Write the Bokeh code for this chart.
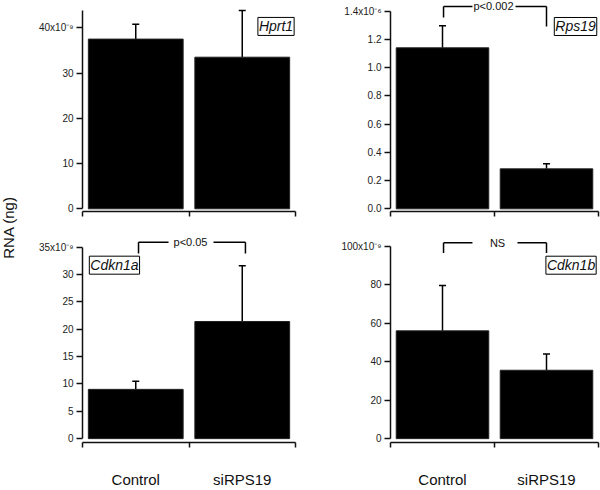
import math
from bokeh.plotting import figure
from bokeh.models import Range1d, FixedTicker, ColumnDataSource, Whisker, TeeHead, Label
from bokeh.layouts import row, column
from bokeh.core.properties import value
from bokeh.embed import file_html
from bokeh.resources import INLINE

# ---------------- data ----------------
groups = ["Control", "siRPS19"]
x_pos = [0.5, 1.5]

hprt1_mean = [37.5, 33.5]
hprt1_err = [3.3, 10.3]
hprt1_ticks = [0, 10, 20, 30, 40]
hprt1_labels = ["0", "10", "20", "30", "40x10\u207b\u2079"]

rps19_mean = [1.14, 0.283]
rps19_err = [0.157, 0.036]
rps19_ticks = [0.0, 0.2, 0.4, 0.6, 0.8, 1.0, 1.2, 1.4]
rps19_labels = ["0.0", "0.2", "0.4", "0.6", "0.8", "1.0", "1.2", "1.4x10\u207b\u2076"]

cdkn1a_mean = [9.0, 21.4]
cdkn1a_err = [1.5, 10.2]
cdkn1a_ticks = [0, 5, 10, 15, 20, 25, 30, 35]
cdkn1a_labels = ["0", "5", "10", "15", "20", "25", "30", "35x10\u207b\u2079"]

cdkn1b_mean = [56.1, 35.6]
cdkn1b_err = [23.6, 8.4]
cdkn1b_ticks = [0, 20, 40, 60, 80, 100]
cdkn1b_labels = ["0", "20", "40", "60", "80", "100x10\u207b\u2079"]

FONT = "Liberation Sans"
INK = "#111111"


def panel(width, height, b_left, b_right, b_bottom, y_rng, y_top, ticks, tick_labels,
          means, errs, gene, gene_xy, bracket, ptext, show_groups):
    p = figure(width=width, height=height, x_range=Range1d(0, 2),
               y_range=Range1d(*y_rng), output_backend="svg", toolbar_location=None,
               min_border_left=b_left, min_border_right=b_right, min_border_top=0,
               min_border_bottom=b_bottom, outline_line_color=None)
    p.xgrid.visible = False
    p.ygrid.visible = False

    ya = p.yaxis[0]
    ya.ticker = FixedTicker(ticks=ticks, minor_ticks=[])
    ya.bounds = (0, y_top)
    ya.major_label_overrides = dict(zip(ticks, tick_labels))
    ya.major_tick_out = 6
    ya.major_tick_in = 0
    ya.minor_tick_line_color = None
    ya.axis_line_width = 1.5
    ya.major_tick_line_width = 1.5
    ya.axis_line_color = INK
    ya.major_tick_line_color = INK
    ya.major_label_text_font = FONT
    ya.major_label_text_font_size = "10px"
    ya.major_label_text_color = "#222222"
    ya.major_label_standoff = 3

    xa = p.xaxis[0]
    xa.ticker = FixedTicker(ticks=x_pos, minor_ticks=[0, 1, 2])
    xa.major_tick_out = 0
    xa.major_tick_in = 0
    xa.minor_tick_out = 5
    xa.minor_tick_in = 0
    xa.minor_tick_line_width = 1.5
    xa.minor_tick_line_color = INK
    xa.axis_line_width = 1.5
    xa.axis_line_color = INK
    xa.major_label_text_font = FONT
    if show_groups:
        xa.major_label_overrides = dict(zip(x_pos, groups))
        xa.major_label_text_font_size = "15px"
        xa.major_label_text_color = INK
        xa.major_label_standoff = 23
    else:
        xa.major_label_overrides = dict(zip(x_pos, ["", ""]))
        xa.major_label_text_font_size = "0px"
        xa.major_label_standoff = 0

    src = ColumnDataSource(dict(x=x_pos, mean=means,
                                upper=[m + e for m, e in zip(means, errs)]))
    p.add_layout(Whisker(source=src, base="x", lower="mean", upper="upper",
                         upper_head=TeeHead(size=7, line_width=1.5, line_color="black"),
                         lower_head=None, line_width=1.5, line_color="black"))
    p.vbar(x="x", top="mean", bottom=0, width=0.89, source=src,
           fill_color="black", line_color="#222222", line_width=1)

    # significance bracket
    if bracket is not None:
        xl, xr, gl, gr, yl, ydl, ydr, tx = bracket
        p.segment(x0=[xl, xl, gr, xr], y0=[ydl, yl, yl, yl],
                  x1=[xl, gl, xr, xr], y1=[yl, yl, yl, ydr],
                  line_color="black", line_width=1.5)
        p.text(x=[tx], y=[yl], text=[ptext], text_align="center", text_baseline="middle",
               text_font=value(FONT), text_font_size="11px", text_color=INK)

    p.add_layout(Label(x=gene_xy[0], y=gene_xy[1], text=gene, text_font=FONT,
                       text_font_style="italic", text_font_size="14px", text_color=INK,
                       text_align="center", text_baseline="middle",
                       border_line_color="black", border_line_width=1,
                       background_fill_color="white", padding=1))
    return p


LW, RW = 310, 270
TH, BH = 225, 265

p1 = panel(LW, TH, 62, 35, 14, (-0.597, 46.03), 43.9, hprt1_ticks, hprt1_labels,
           hprt1_mean, hprt1_err, "Hprt1", (1.817, 40.3), None, "", False)
p2 = panel(RW, TH, 60, 2, 14, (-0.019, 1.475), 1.4, rps19_ticks, rps19_labels,
           rps19_mean, rps19_err, "Rps19", (1.779, 1.291),
           (0.51, 1.5, 0.788, 1.202, 1.433, 1.355, 1.291, 0.99), "p<0.002", False)
p3 = panel(LW, BH, 62, 35, 41, (-0.708, 38.94), 35, cdkn1a_ticks, cdkn1a_labels,
           cdkn1a_mean, cdkn1a_err, "Cdkn1a", (0.30, 31.69),
           (0.526, 1.53, 0.808, 1.23, 35.88, 33.81, 33.81, 1.014), "p<0.05", True)
p4 = panel(RW, BH, 60, 2, 41, (-2.017, 110.94), 100, cdkn1b_ticks, cdkn1b_labels,
           cdkn1b_mean, cdkn1b_err, "Cdkn1b", (1.736, 90.27),
           (0.51, 1.5, 0.788, 1.221, 102.0, 96.57, 96.57, 1.029), "NS", True)

lab = figure(width=20, height=490, x_range=Range1d(0, 20), y_range=Range1d(0, 490),
             x_axis_location=None, y_axis_location=None, output_backend="svg",
             toolbar_location=None, min_border=0, outline_line_color=None)
lab.xgrid.visible = False
lab.ygrid.visible = False
lab.text(x=[8], y=[263], text=["RNA (ng)"], angle=math.pi / 2, text_align="center",
         text_baseline="middle", text_font=value(FONT), text_font_size="15px",
         text_color=INK)

layout = row(lab, column(row(p1, p2), row(p3, p4)))

open("out.html", "w").write(file_html(layout, INLINE))
